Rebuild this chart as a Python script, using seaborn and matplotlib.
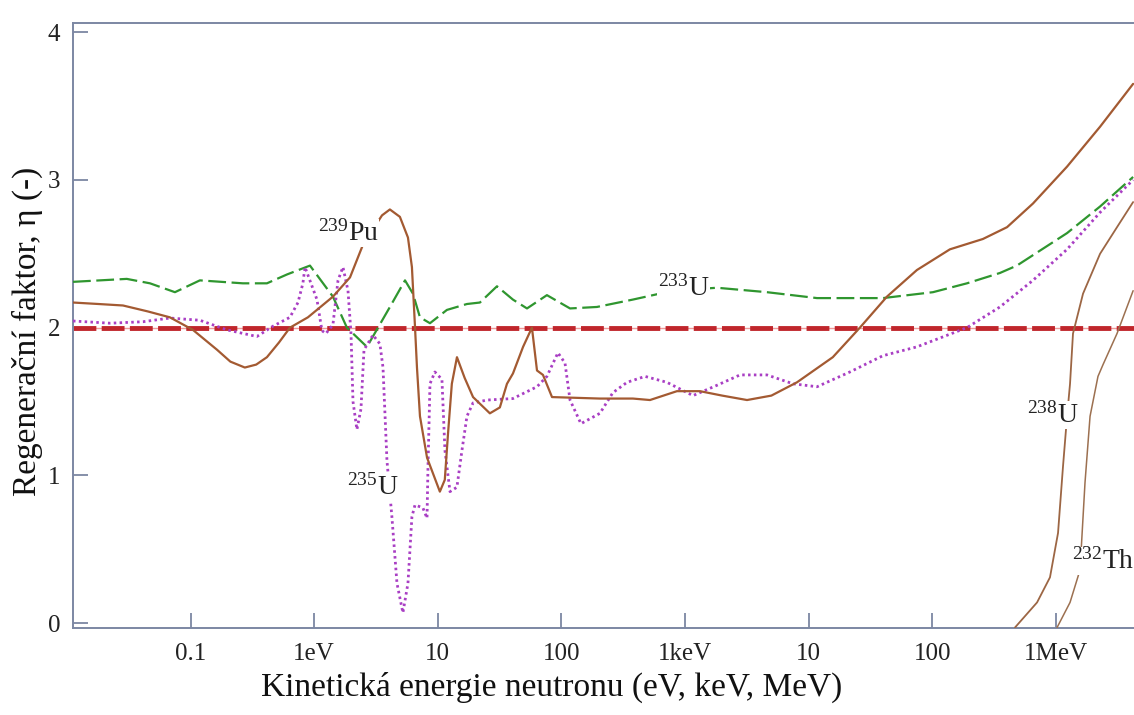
import matplotlib
matplotlib.use("Agg")
import matplotlib.pyplot as plt
import seaborn as sns
import pandas as pd

# ---------------- data (energy in eV, eta = regeneration factor) ----------------
pu239_energy = [0.0112, 0.018, 0.0284, 0.045, 0.068, 0.1045, 0.164, 0.21, 0.275, 0.34,
                0.415, 0.52, 0.637, 0.891, 1.42,
                1.95, 2.48, 3.54, 4.10, 4.94, 5.74, 6.18, 6.55, 6.79, 7.18, 8.19, 10.4,
                11.4, 12.1, 13.0, 14.3, 16.5, 19.3, 26.4, 31.8, 36.3, 40.6, 49.0, 57.8, 63.5,
                71.0, 84.0, 205, 379, 521, 861, 1321, 2000, 3177, 5000, 8054, 15700, 26000,
                43050, 75200, 139000, 257000, 403000, 653000, 1.233e6, 2.28e6, 4.22e6]
pu239_eta = [2.17, 2.16, 2.15, 2.11, 2.07, 1.985, 1.85, 1.77, 1.73, 1.75,
             1.80, 1.90, 2.00, 2.07, 2.21,
             2.34, 2.56, 2.76, 2.80, 2.75, 2.61, 2.41, 2.00, 1.73, 1.40, 1.12, 0.89,
             0.97, 1.28, 1.62, 1.80, 1.66, 1.53, 1.42, 1.46, 1.62, 1.69, 1.87, 2.00, 1.71,
             1.68, 1.53, 1.52, 1.52, 1.51, 1.57, 1.57, 1.54, 1.51, 1.54, 1.63, 1.80, 2.00,
             2.21, 2.39, 2.53, 2.60, 2.68, 2.84, 3.09, 3.36, 3.65]

u235_energy = [0.0112, 0.0223, 0.0412, 0.0681, 0.119, 0.197, 0.344, 0.465, 0.637, 0.740,
               0.811, 0.843, 1.054, 1.156, 1.245, 1.419, 1.560, 1.710, 1.879, 1.987,
               2.062, 2.218, 2.392, 2.531, 2.992, 3.404, 3.606, 3.882, 4.256, 4.677,
               5.224, 5.741, 6.180, 6.546, 7.586, 8.185, 8.337, 8.650, 9.484, 10.81,
               11.43, 12.56, 14.29, 15.70, 17.22, 19.28, 25.0, 40.55, 63.5, 76.4,
               93.8, 107, 117.5, 144, 205, 261, 340, 475, 714, 1161,
               1816, 2786, 4603, 7482, 11700, 21580, 39900, 75200, 191000, 353000,
               653000, 1.233e6, 2.28e6, 4.22e6]
u235_eta = [2.045, 2.03, 2.04, 2.065, 2.05, 1.985, 1.94, 2.01, 2.07, 2.17,
            2.30, 2.41, 2.19, 1.98, 1.96, 2.02, 2.32, 2.41, 2.25, 1.96,
            1.50, 1.31, 1.45, 1.85, 1.95, 1.89, 1.73, 1.10, 0.72, 0.27,
            0.07, 0.27, 0.72, 0.80, 0.78, 0.71, 1.06, 1.62, 1.70, 1.65,
            1.17, 0.89, 0.92, 1.17, 1.40, 1.49, 1.51, 1.52, 1.60, 1.67,
            1.83, 1.76, 1.51, 1.35, 1.42, 1.56, 1.63, 1.67, 1.63, 1.54,
            1.61, 1.68, 1.68, 1.62, 1.60, 1.70, 1.81, 1.87, 2.00, 2.14,
            2.32, 2.53, 2.78, 3.00]

u233_energy = [0.0112, 0.0305, 0.047, 0.0748, 0.119, 0.265, 0.415, 0.603, 0.925, 1.419,
               1.841, 2.673, 4.102, 5.433, 6.30, 7.178, 8.65, 11.86, 17.22, 21.93,
               30.13, 40.55, 52.72, 76.4, 117.5, 194, 379, 800, 1816, 4603,
               11700, 39900, 101400, 191000, 353000, 484000, 1.233e6, 2.28e6, 4.22e6]
u233_eta = [2.31, 2.33, 2.30, 2.24, 2.32, 2.30, 2.30, 2.36, 2.42, 2.21,
            2.00, 1.87, 2.14, 2.32, 2.23, 2.07, 2.03, 2.12, 2.16, 2.17,
            2.28, 2.19, 2.13, 2.22, 2.13, 2.14, 2.19, 2.25, 2.27, 2.24,
            2.20, 2.20, 2.24, 2.30, 2.37, 2.42, 2.64, 2.82, 3.02]

u238_energy = [467000, 705000, 897000, 1.042e6, 1.143e6, 1.233e6, 1.303e6, 1.377e6,
               1.660e6, 2.28e6, 3.126e6, 4.22e6]
u238_eta = [-0.03, 0.14, 0.31, 0.61, 1.06, 1.40, 1.62, 1.96, 2.23, 2.50, 2.68, 2.85]

th232_energy = [1.023e6, 1.303e6, 1.570e6, 1.722e6, 1.892e6, 2.193e6, 2.41e6, 3.126e6, 4.22e6]
th232_eta = [-0.03, 0.14, 0.36, 0.95, 1.40, 1.67, 1.75, 1.96, 2.25]

reference_eta = 2.0

x_ticks = [0.1, 1, 10, 100, 1e3, 1e4, 1e5, 1e6]
x_tick_labels = ["0.1", "1eV", "10", "100", "1keV", "10", "100", "1MeV"]
y_ticks = [0, 1, 2, 3, 4]

# label anchors (energy eV, eta)
labels = [(r"$^{239}$Pu", 1.07, 2.59),
          (r"$^{235}$U", 1.85, 0.87),
          (r"$^{233}$U", 605, 2.22),
          (r"$^{238}$U", 580000, 1.36),
          (r"$^{232}$Th", 1.34e6, 0.37)]

# ---------------- style ----------------
sns.set_theme(style="white")
plt.rcParams["font.family"] = ["Liberation Serif", "DejaVu Serif"]
plt.rcParams["mathtext.fontset"] = "custom"
plt.rcParams["mathtext.rm"] = "Liberation Serif"
plt.rcParams["mathtext.it"] = "Liberation Serif"
plt.rcParams["mathtext.default"] = "regular"

W, H = 1134, 715
fig = plt.figure(figsize=(W / 100, H / 100), dpi=100)
ax = fig.add_axes([73 / W, 1 - 628 / H, 1 - 73 / W, (628 - 23.3) / H])

brown = "#a35a32"
green = "#2f962f"
magenta = "#a93fc4"
red = "#c0262c"

# reference line at eta = 2
ax.axhline(reference_eta, color="#ee9a9a", lw=1.0, zorder=1)
ax.axhline(reference_eta, color=red, lw=3.5, linestyle=(0, (4.7, 1.1)), zorder=2)

def draw(xs, ys, **kw):
    df = pd.DataFrame({"E": xs, "eta": ys})
    sns.lineplot(data=df, x="E", y="eta", ax=ax, estimator=None, sort=False, **kw)

draw(u233_energy, u233_eta, color=green, lw=1.6, linestyle=(0, (8, 2.5)), zorder=3)
draw(u235_energy, u235_eta, color=magenta, lw=2.0, linestyle=(0, (0.9, 1.2)), zorder=3)
draw(pu239_energy, pu239_eta, color=brown, lw=1.6, zorder=4)
draw(u238_energy, u238_eta, color="#9c6644", lw=1.3, zorder=4)
draw(th232_energy, th232_eta, color="#9c7050", lw=1.1, zorder=4)

for txt, xe, ye in labels:
    ax.text(xe, ye, txt, fontsize=20, ha="left", va="baseline", color="#222222", zorder=6,
            bbox=dict(facecolor="white", edgecolor="none", pad=0.5))

ax.set_xscale("log")
ax.set_xlim(0.0112, 4.29e6)
ax.set_ylim(-0.033, 4.06)
ax.set_xticks(x_ticks)
ax.set_xticklabels(x_tick_labels)
ax.minorticks_off()
ax.set_yticks(y_ticks)

spine_col = "#7c87a3"
for side in ["left", "bottom", "top"]:
    ax.spines[side].set_color(spine_col)
    ax.spines[side].set_linewidth(1.4)
ax.spines["right"].set_visible(False)

ax.tick_params(axis="both", direction="in", length=11, width=1.3, color=spine_col,
               labelsize=18, labelcolor="#222222")
ax.tick_params(axis="x", pad=11, top=False, bottom=True)
ax.tick_params(axis="y", pad=9, left=True, right=False)

ax.set_xlabel("Kinetická energie neutronu (eV, keV, MeV)", fontsize=24, color="#111111")
ax.set_ylabel("Regenerační faktor, η (-)", fontsize=24, color="#111111")
ax.xaxis.set_label_coords(0.4515, -0.072)
ax.yaxis.set_label_coords(-0.028, 0.49)
ax.grid(False)

fig.savefig("out.png", dpi=100)
